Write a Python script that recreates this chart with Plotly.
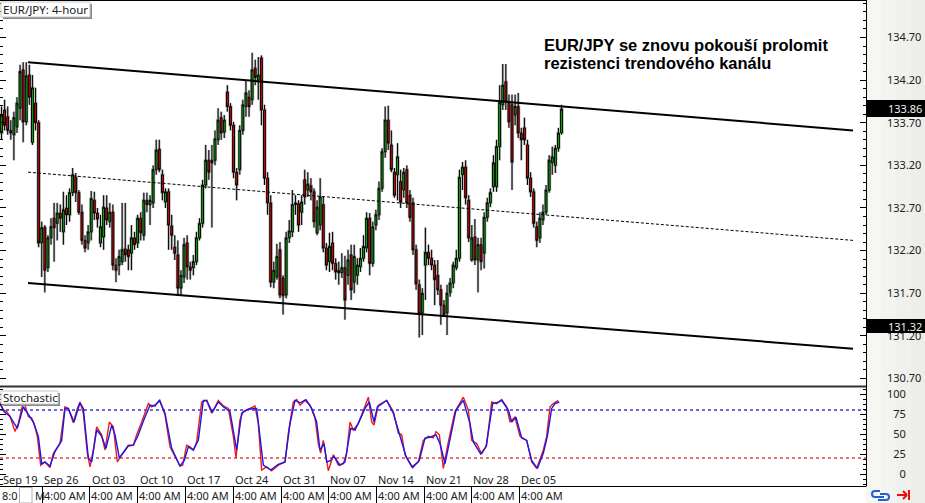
import plotly.graph_objects as go

opens = [133.58,133.85,133.77,133.61,133.56,133.65,133.87,134.32,133.71,134.26,133.47,133.93,133.70,132.29,132.47,132.00,132.35,132.58,132.52,132.64,
132.42,132.70,132.62,132.88,133.06,132.88,132.65,132.32,132.29,132.42,132.79,132.64,132.29,132.36,132.70,132.54,132.65,132.03,132.03,132.07,
132.22,132.21,132.17,132.35,132.29,132.58,132.38,132.79,132.74,132.76,133.15,133.39,133.09,132.77,132.89,132.49,132.24,132.15,131.76,
131.89,132.29,132.01,132.00,132.07,132.35,132.52,132.97,133.26,133.26,133.26,133.50,133.76,133.59,134.06,133.89,133.67,133.12,133.15,
133.61,133.89,134.00,133.97,134.34,134.20,134.46,133.85,133.05,132.76,131.83,131.89,132.21,131.88,131.68,132.35,132.42,
132.74,132.75,132.65,133.03,132.91,132.96,132.89,132.41,132.50,132.74,132.23,132.07,132.29,132.05,131.97,131.94,132.00,131.91,132.15,131.83,
131.91,132.01,132.11,132.23,132.58,132.05,132.50,132.62,132.93,133.36,133.73,133.44,133.12,133.09,133.01,132.91,133.15,132.85,132.76,
132.21,131.80,131.47,132.03,132.18,132.11,132.03,131.91,131.74,131.56,131.47,131.71,131.82,132.00,132.11,133.09,133.18,
132.79,132.09,132.36,132.09,132.27,132.17,132.59,132.76,132.95,132.95,133.42,133.91,134.18,133.93,133.91,133.79,133.89,133.58,
133.64,133.44,133.05,132.89,132.48,132.35,132.56,132.65,132.91,133.23,133.20,133.40,133.58]
closes = [133.79,133.67,133.61,133.58,133.76,133.93,134.30,133.71,134.25,134.00,134.11,133.70,132.29,132.47,131.97,132.35,132.48,132.47,132.64,132.58,
132.68,132.62,132.88,133.09,132.88,132.65,132.32,132.23,132.42,132.81,132.64,132.57,132.48,132.71,132.56,132.65,132.03,131.97,132.13,132.21,
132.15,132.13,132.35,132.27,132.58,132.41,132.79,132.74,132.79,133.15,133.38,133.15,132.88,132.89,132.50,132.38,132.17,131.76,131.91,
132.27,132.01,131.97,132.07,132.35,132.52,132.97,133.26,133.12,133.23,133.51,133.73,133.58,133.73,133.89,133.67,133.12,132.97,133.61,
133.91,134.05,133.89,134.32,134.23,134.26,133.85,133.05,132.76,131.83,131.97,132.13,131.68,131.67,132.35,132.43,132.74,
132.76,132.50,132.77,132.83,132.98,132.89,132.54,132.71,132.83,132.23,132.03,132.25,132.05,131.95,131.94,132.00,131.62,132.09,131.74,132.13,
132.03,132.11,132.25,132.58,132.05,132.48,132.62,132.93,133.36,133.73,133.46,133.15,132.85,133.30,132.77,133.12,132.76,132.59,132.21,
131.81,131.46,131.70,132.18,132.11,132.03,131.86,131.74,131.56,131.45,131.70,131.82,132.03,132.11,133.06,133.18,132.82,
132.35,132.35,132.09,132.27,132.07,132.59,132.76,132.88,133.23,133.42,133.94,134.14,133.94,133.71,133.24,133.89,133.58,133.50,
133.50,133.05,132.89,132.52,132.32,132.58,132.65,132.91,133.26,133.30,133.40,133.58,133.86]
highs = [133.89,133.97,133.89,133.73,133.83,134.00,134.38,134.41,134.41,134.38,134.26,134.11,133.73,132.54,132.50,132.38,132.58,132.76,132.76,132.74,
132.89,132.85,132.93,133.17,133.11,132.91,132.74,132.38,132.50,132.90,132.89,132.70,132.62,132.85,132.85,132.76,132.74,132.11,132.21,132.76,
132.76,132.27,132.50,132.42,132.62,132.65,132.88,132.88,132.85,133.20,133.50,133.50,133.15,132.93,132.93,132.62,132.38,132.32,131.97,
132.35,132.38,132.07,132.15,132.42,132.58,133.03,133.44,133.38,133.44,133.61,133.87,133.83,133.79,134.14,133.93,133.71,133.17,133.67,
133.97,134.20,134.08,134.52,134.44,134.47,134.49,133.91,133.12,132.85,132.07,132.28,132.30,131.91,132.42,132.56,132.91,
132.85,132.79,132.85,133.15,133.12,133.05,132.93,132.79,133.05,132.83,132.29,132.41,132.42,132.11,132.07,132.17,132.14,132.21,132.27,132.27,
132.11,132.23,132.38,132.65,132.64,132.54,132.68,133.01,133.40,133.89,133.90,133.61,133.17,133.46,133.15,133.17,133.20,132.91,132.82,
132.27,131.86,131.76,132.47,132.27,132.21,132.09,132.09,131.80,131.62,131.80,131.88,132.07,132.21,133.15,133.24,133.26,
132.85,132.50,132.57,132.35,132.35,132.65,132.82,132.93,133.32,133.50,134.14,134.39,134.39,134.03,134.03,134.03,134.05,133.64,
133.76,133.50,133.12,132.93,132.54,132.65,132.74,132.97,133.32,133.42,133.44,133.64,133.91]
lows = [133.50,133.61,133.56,133.50,133.26,133.58,133.73,133.47,133.67,133.91,133.44,133.61,132.24,131.89,131.71,131.95,132.27,132.07,132.32,132.42,
132.27,132.50,132.54,132.84,132.77,132.62,132.27,132.18,132.21,132.32,132.56,132.47,132.24,132.21,132.50,132.47,131.97,131.83,131.91,132.03,
132.07,131.97,131.97,132.21,132.23,132.32,132.32,132.65,132.50,132.70,133.09,133.12,132.79,132.70,132.21,132.21,132.09,131.68,131.68,
131.82,131.86,131.86,131.91,132.03,132.32,132.47,132.93,133.03,132.47,133.20,133.44,133.50,133.52,133.83,133.61,133.05,132.79,133.09,
133.56,133.77,133.77,133.91,134.14,133.97,133.67,132.97,132.62,131.77,131.76,131.86,131.64,131.45,131.64,132.29,132.36,
132.62,132.42,132.50,132.74,132.83,132.79,132.47,132.38,132.44,132.18,131.97,131.95,131.97,131.86,131.80,131.88,131.39,131.80,131.62,131.70,
131.80,131.95,132.07,132.18,131.91,132.01,132.44,132.56,132.89,133.29,133.38,133.12,132.82,132.79,132.70,132.82,132.70,132.54,132.15,
131.74,131.18,131.21,131.62,132.03,131.97,131.56,131.68,131.33,131.42,131.21,131.66,131.76,131.97,132.07,132.91,132.74,
132.30,132.07,132.03,131.71,131.97,131.99,132.54,132.71,132.89,132.89,133.26,133.85,133.85,133.64,132.91,133.67,133.52,133.26,
133.44,132.97,132.83,132.47,132.24,132.29,132.50,132.62,132.88,133.09,133.11,133.36,133.56]

channel_x = [8.56, 275.2]
channel_upper = [134.41, 133.61]
channel_mid = [133.12, 132.32]
channel_lower = [131.82, 131.05]

stoch_red_x = [0,1,2,3,4.5,5.5,6.5,7.2,8.5,9.5,10.5,11.2,12.2,13.5,15,16,18,19.5,20.5,22,23.2,24,25,26.2,27,28,29,30.5,31.5,32.8,34,35.2,36.5,38.5,40,41,42.5,44.5,45.5,47,48,49.5,51,54,54.8,56,57,58,59,60.5,62,63.5,65.5,67,68.5,70,70.8,72,73,76.5,77.5,78.5,80,81.5,83.5,85.5,86.5,88,89,
90,91.5,93,94.5,95.5,96.2,97,97.5,98.5,100,101.5,103,104,105,106,107.5,109,110.5,111.5,112.2,113.5,116,118,119.5,120.5,121.5,123.5,125.5,127,128.5,130,130.8,131.8,133,134.5,136.5,139,140.5,141.5,143,144.5,146,147.5,149,150.5,152,153,154.5,156,158,159.5,161,163,164,165,166,167.5]
stoch_red = [90,80,78,72,53,63,82,90,72,70,59,47,11,15,8,26,38,84,82,64,82,90,76,26,9,30,59,49,30,65,59,15,24,36,36,49,65,88,84,88,92,74,34,10,11,36,34,30,40,90,92,76,92,85,82,47,20,68,78,85,63,5,9,4,11,15,51,90,93,
86,92,86,70,38,26,42,30,4,24,11,13,26,65,55,63,80,96,65,61,86,92,78,51,49,24,9,15,42,47,45,53,49,7,40,78,96,80,42,38,25,36,90,88,93,84,65,71,47,42,15,7,30,47,84,88,92]
stoch_blue_x = [0,1.2,3,5.2,7,8.5,10,11.5,12.5,13.5,15,16.5,18.5,19.5,20.5,22.2,24,25,26.5,27.5,29,30.5,31.8,33.5,34.5,35.8,38.5,40,41.5,43.2,45,46.5,47.8,49.5,51.5,54,55.3,56.5,58,59.5,61,62,63.7,65.5,67,69,71,72.5,74.5,77,79,81.2,83.5,85.5,87,88.5,
90,91.8,93.5,95,96,97.2,98,99.2,100.2,102,103.5,105.2,106.5,108,109.5,110.8,112.2,113.2,116,118,120,121.8,123.8,125.8,127.5,129,130.8,132,133.5,135,136.8,139,141,142,144.2,145.8,147.8,149,150.5,152.5,153.5,154.8,156.5,158,159.5,161.2,163,164.2,165.5,166.5,167.8]
stoch_blue = [88,78,72,57,84,74,65,47,13,15,10,28,42,82,82,65,89,82,20,15,55,47,32,61,49,20,35,36,49,68,86,85,92,76,32,10,17,34,30,42,92,92,77,90,84,78,30,76,81,82,11,5,12,15,63,92,
89,93,82,65,30,38,15,17,22,11,15,57,55,68,82,90,65,84,92,76,47,22,8,17,45,46,49,38,13,42,80,92,63,40,25,34,88,89,92,80,65,71,45,42,17,7,26,47,82,88,90]

stoch_levels = [80, 20]
price_ticks = [130.70, 131.20, 131.70, 132.20, 132.70, 133.20, 133.70, 134.20, 134.70]
stoch_ticks = [0, 25, 50, 75, 100]
stoch_tick_text = ["\u2007\u20070", "\u200725", "\u200750", "\u200775", "100"]
week_labels = ["Sep 19","Sep 26","Oct 03","Oct 10","Oct 17","Oct 24","Oct 31","Nov 07","Nov 14","Nov 21","Nov 28","Dec 05"]
week_label_px = [3,44,92,140,187,235,283,330,378,426,473,521]
session_tick_px = [42,89,137,185,233,281,328,376,424,471,519]
session_label = "4:00 AM"
last_price = 133.86
low_price = 131.32
title_label = "EUR/JPY: 4-hour"
stoch_label = "Stochastic"
note_lines = ["EUR/JPY se znovu pokouší prolomit", "rezistenci trendového kanálu"]

W, H = 925, 503
PX_R = 866
UI = "Noto Sans"
px = lambda x: x / W
py = lambda y: 1 - y / H

fig = go.Figure()
candle_x = list(range(len(closes)))
# soft grey halo under the candles
fig.add_trace(go.Candlestick(
    x=candle_x, open=opens, high=highs, low=lows, close=closes, whiskerwidth=0,
    increasing=dict(line=dict(color="#b4b4b4", width=2.4), fillcolor="#b4b4b4"),
    decreasing=dict(line=dict(color="#b4b4b4", width=2.4), fillcolor="#b4b4b4"),
    showlegend=False, hoverinfo="skip", xaxis="x", yaxis="y"))
fig.add_trace(go.Candlestick(
    x=candle_x, open=opens, high=highs, low=lows, close=closes, whiskerwidth=0,
    increasing=dict(line=dict(color="#000000", width=1), fillcolor="#00c000"),
    decreasing=dict(line=dict(color="#000000", width=1), fillcolor="#f00000"),
    showlegend=False, hoverinfo="skip", xaxis="x", yaxis="y"))
for vals, lw, dash in [(channel_upper, 2, "solid"), (channel_lower, 2, "solid"), (channel_mid, 1, "3px,2px")]:
    fig.add_trace(go.Scatter(x=channel_x, y=vals, mode="lines", line=dict(color="#000000", width=lw, dash=dash),
                             showlegend=False, hoverinfo="skip", xaxis="x", yaxis="y"))
fig.add_trace(go.Scatter(x=stoch_red_x, y=stoch_red, mode="lines", line=dict(color="#f01818", width=1.4),
                         showlegend=False, hoverinfo="skip", xaxis="x2", yaxis="y2"))
fig.add_trace(go.Scatter(x=stoch_blue_x, y=stoch_blue, mode="lines", line=dict(color="#1818e8", width=1.4),
                         showlegend=False, hoverinfo="skip", xaxis="x2", yaxis="y2"))

shapes = []
def rect(x0, y0, x1, y1, fill, line=None, layer="below"):
    shapes.append(dict(type="rect", xref="paper", yref="paper", x0=px(x0), x1=px(x1), y0=py(y0), y1=py(y1),
                       fillcolor=fill, line=dict(color=line or fill, width=1 if line else 0), layer=layer))
def hv(x0, y0, x1, y1, color="#000000", width=1):
    shapes.append(dict(type="line", xref="paper", yref="paper", x0=px(x0), x1=px(x1), y0=py(y0), y1=py(y1),
                       line=dict(color=color, width=width), layer="above"))

# right hand strip, light grey with a soft gradient
for i, c in enumerate(["#f6f6f3", "#f3f3f0", "#f0f0ec", "#edede9"]):
    rect(PX_R + i * 15, 0, PX_R + (i + 1) * 15, H, c)
hv(0, 0.5, PX_R, 0.5)
hv(PX_R + 0.5, 0, PX_R + 0.5, 486.5)
hv(0, 386.5, PX_R, 386.5, "#333333", 2)
hv(0, 486.5, PX_R, 486.5)
for t in session_tick_px:
    hv(t + 0.5, 487, t + 0.5, H)
for lvl, col in zip(stoch_levels, ["#3a3ad8", "#e04444"]):
    shapes.append(dict(type="line", xref="paper", yref="y2", x0=0, x1=px(PX_R), y0=lvl, y1=lvl,
                       line=dict(color=col, width=1.6, dash="3px,3px"), layer="below"))
# label boxes
rect(3, 4, 92, 19, "#8a8a8a", layer="above")
rect(1, 2, 90, 17, "#ffffff", "#c8c8c8", layer="above")
rect(3, 393, 60, 406, "#8a8a8a", layer="above")
rect(1, 391, 58, 404, "#ffffff", "#c8c8c8", layer="above")
# scrollbar-like box on the time row
rect(19.5, 487.5, 32, H, "#ffffff", "#b0b0b0", layer="above")
# price tags
rect(PX_R + 1, 100, W, 117, "#000000", layer="above")
rect(PX_R + 1, 319, W, 333, "#000000", layer="above")
# link icon
shapes.append(dict(type="path", xref="paper", yref="paper", layer="above", line=dict(color="#2060d8", width=2),
    path=f"M {px(880)},{py(491)} L {px(875)},{py(491)} Q {px(872)},{py(491)} {px(872)},{py(494)} Q {px(872)},{py(497)} {px(875)},{py(497)} L {px(884)},{py(497)}"))
shapes.append(dict(type="path", xref="paper", yref="paper", layer="above", line=dict(color="#2060d8", width=2),
    path=f"M {px(880)},{py(494)} L {px(886)},{py(494)} Q {px(889)},{py(494)} {px(889)},{py(497)} Q {px(889)},{py(500)} {px(886)},{py(500)} L {px(878)},{py(500)}"))
# red go-to-end arrow
hv(897, 495, 906, 495, "#e81010", 2)
hv(903, 491, 907, 495, "#e81010", 2)
hv(903, 499, 907, 495, "#e81010", 2)
hv(909, 490, 909, 500, "#e81010", 2)

ann = []
def text(x, y, s, size=11, color="#202020", family=UI, anchor="left", bold=False):
    ann.append(dict(xref="paper", yref="paper", x=px(x), y=py(y), text=f"<b>{s}</b>" if bold else s, showarrow=False,
                    xanchor=anchor, yanchor="middle", align="left", font=dict(family=family, size=size, color=color),
                    borderpad=0, borderwidth=0))
for s, xp in zip(week_labels, week_label_px):
    text(xp, 479.5, s)
for t in session_tick_px:
    text(t + 2, 495.5, session_label)
text(2, 495.5, "8:0")
text(35, 495.5, "M")
text(3, 9.5, title_label, 11.5)
text(3, 397.5, stoch_label, 11.5)
text(544, 45, note_lines[0], 16.5, "#000000", "Liberation Sans", bold=True)
text(544, 63, note_lines[1], 16.5, "#000000", "Liberation Sans", bold=True)
text(888, 108.5, f"{last_price:.2f}", 11, "#f0f0f0")
text(888, 326, f"{low_price:.2f}", 11, "#f0f0f0")

axis_font = dict(family=UI, size=11, color="#202020")
fig.update_layout(
    width=W, height=H, margin=dict(l=0, r=0, t=0, b=0), paper_bgcolor="#ffffff", plot_bgcolor="#ffffff",
    showlegend=False, shapes=shapes, annotations=ann, boxgap=0.15, boxmode="overlay",
    xaxis=dict(domain=[0, PX_R / W], range=[-0.485, 279.4], visible=False, rangeslider=dict(visible=False), anchor="y"),
    yaxis=dict(domain=[py(386), py(1)], range=[130.612, 135.128], side="right", anchor="x", showgrid=False, zeroline=False,
               tickmode="array", tickvals=price_ticks, ticktext=[f"{v:.2f}" for v in price_ticks],
               ticks="inside", ticklen=6, tickcolor="#000000", tickwidth=1, mirror="ticks", showline=False,
               minor=dict(dtick=0.1, ticks="inside", ticklen=3, tickcolor="#000000", tick0=130.7),
               tickfont=axis_font, ticklabelstandoff=20),
    xaxis2=dict(domain=[0, PX_R / W], range=[0, 259.8], visible=False, anchor="y2"),
    yaxis2=dict(domain=[py(486), py(387)], range=[-15, 108.75], side="right", anchor="x2", showgrid=False, zeroline=False,
                tickmode="array", tickvals=stoch_ticks, ticktext=stoch_tick_text,
                ticks="inside", ticklen=6, tickcolor="#000000", tickwidth=1, mirror="ticks", showline=False,
                minor=dict(dtick=6.25, ticks="inside", ticklen=3, tickcolor="#000000", tick0=0),
                tickfont=axis_font, ticklabelstandoff=20),
)
fig.write_html("out.html", config=dict(displayModeBar=False),
               post_script="document.body.style.margin='0';document.documentElement.style.overflow='hidden';")
